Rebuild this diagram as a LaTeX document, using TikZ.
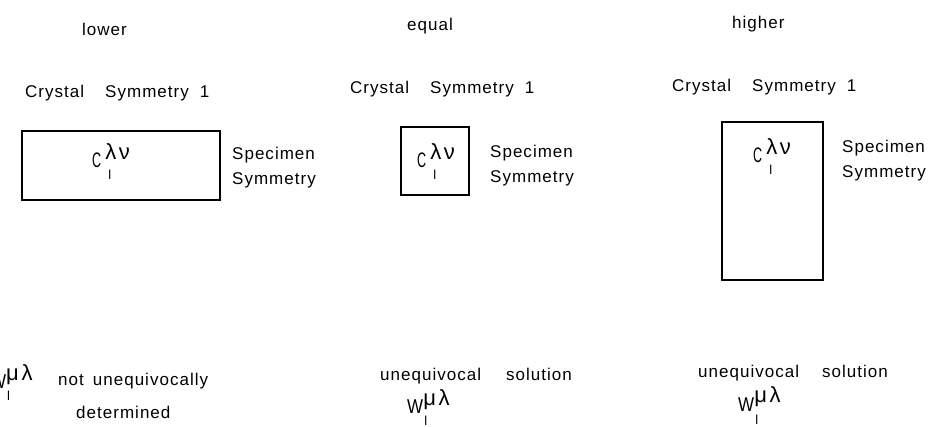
\documentclass[tikz,border=0pt]{standalone}
\usepackage{fontspec}
\usepackage{graphicx}
\setmainfont{Liberation Sans}[LetterSpace=6]
\newfontfamily\grk{Liberation Sans}[LetterSpace=12]
\newcommand\Ccoef{{\fontsize{21}{21}\selectfont\scalebox{0.6}[1]{C}}\kern4pt\rlap{\kern3pt\raisebox{-12pt}{\fontsize{13}{13}\selectfont l}}\raisebox{8pt}{\grk\fontsize{22}{22}\selectfont λν}}
\newcommand\Wcoef[2]{{\fontsize{20}{20}\selectfont\scalebox{0.85}[1]{W}}\rlap{\kern1pt\raisebox{-#2pt}{\fontsize{13}{13}\selectfont l}}\raisebox{#1pt}{\grk\fontsize{22}{22}\selectfont μλ}}
\begin{document}
\begin{tikzpicture}[x=1pt,y=-1pt,
  txt/.style={inner sep=0pt, anchor=base west, font=\fontsize{17}{20}\selectfont},
  symbox/.style={draw, line width=1.7pt, inner sep=0pt}]
\useasboundingbox (0,0) rectangle (939,426);
% headings
\node[txt] (lo) at (82,35) {lower};
\node[txt] (eq) at (407,30) {equal};
\node[txt] (hi) at (732,28) {higher};
% crystal symmetry
\node[txt] (cs1) at (25,97) {Crystal\hspace{21pt}Symmetry\hspace{11pt}1};
\node[txt] (cs2) at (350,93) {Crystal\hspace{21pt}Symmetry\hspace{11pt}1};
\node[txt] (cs3) at (672,91) {Crystal\hspace{21pt}Symmetry\hspace{11pt}1};
% boxes
\node[symbox, minimum width=198pt, minimum height=69pt] (b1) at (121,165.5) {};
\node[symbox, minimum width=68pt, minimum height=68pt] (b2) at (435,161) {};
\node[symbox, minimum width=101pt, minimum height=158pt] (b3) at (772.5,201) {};
\node[txt] (c1) at (92,167) {\Ccoef};
\node[txt] (c2) at (417,167) {\Ccoef};
\node[txt] (c3) at (753,162) {\Ccoef};
% specimen symmetry
\node[txt] (sp1) at (232,159) {Specimen};
\node[txt] (sy1) at (232,184) {Symmetry};
\node[txt] (sp2) at (490,157) {Specimen};
\node[txt] (sy2) at (490,182) {Symmetry};
\node[txt] (sp3) at (842,152) {Specimen};
\node[txt] (sy3) at (842,177) {Symmetry};
% bottom
\node[txt] (w1) at (-10,388) {\Wcoef{8}{12}};
\node[txt] (nu) at (58,385) {not\hspace{9pt}unequivocally};
\node[txt] (de) at (76,418) {determined};
\node[txt] (us2) at (380,380) {unequivocal\hspace{25pt}solution};
\node[txt] (w2) at (407,413) {\Wcoef{8}{12}};
\node[txt] (us3) at (698,377) {unequivocal\hspace{23pt}solution};
\node[txt] (w3) at (738,411) {\Wcoef{9}{13}};
\end{tikzpicture}
\end{document}
